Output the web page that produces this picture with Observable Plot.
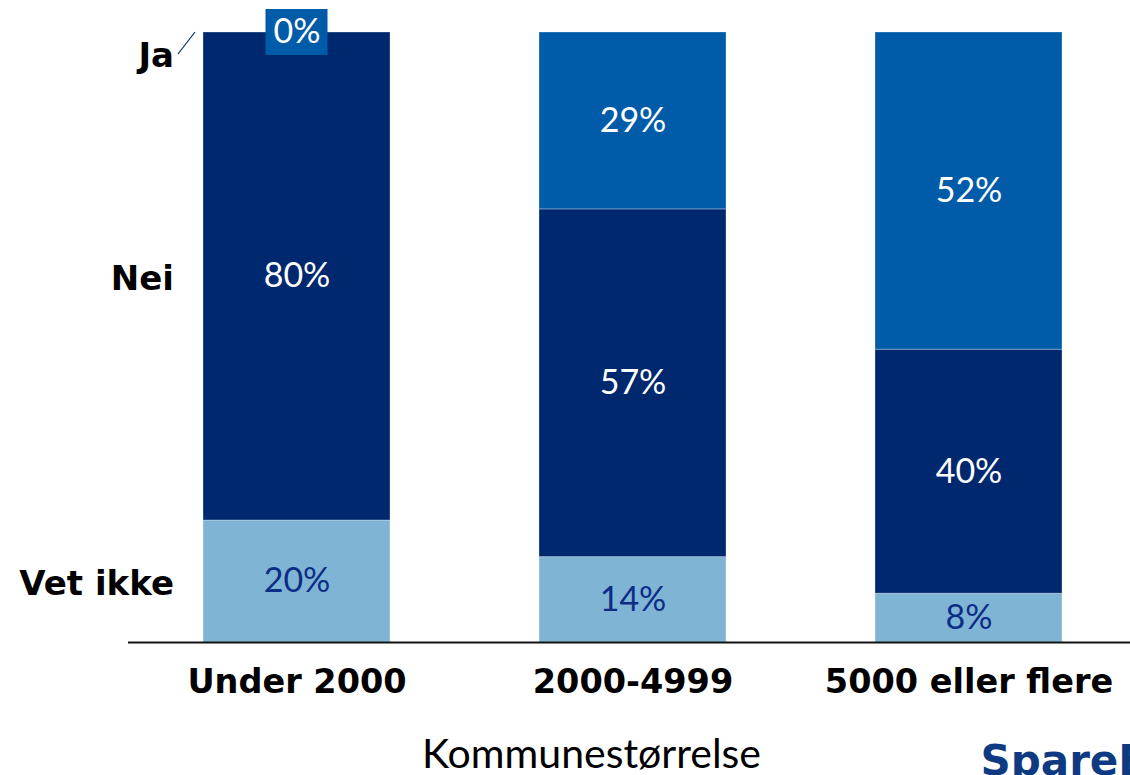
<!DOCTYPE html>
<html><head><meta charset="utf-8">
<script src="https://cdn.jsdelivr.net/npm/d3@7"></script>
<script src="https://cdn.jsdelivr.net/npm/@observablehq/plot@0.6"></script>
<style>body{margin:0;background:#fff;overflow:hidden}</style>
</head><body><div id="chart"></div>
<script>
const categories = ["Under 2000", "2000-4999", "5000 eller flere"];
const series = ["Vet ikke", "Nei", "Ja"];
const vetIkke = [20, 14, 8];
const nei = [80, 57, 40];
const ja = [0, 29, 52];
const axisTitle = "Kommunestørrelse";
const logoText = "SpareBank 1";
const colors = ["#7fb4d5", "#00286e", "#005ca8"];

const valuesBySeries = [vetIkke, nei, ja];
const rows = [];
categories.forEach((c, i) => {
  let base = 0;
  series.forEach((s, j) => {
    const v = valuesBySeries[j][i];
    rows.push({category: c, series: s, value: v, y1: base, y2: base + v, mid: base + v / 2});
    base += v;
  });
});
const first = rows.filter(d => d.category === categories[0]);

const boldFont = "DejaVu Sans";
const lightFont = "Lato";

const plot = Plot.plot({
  width: 1130,
  height: 775,
  marginLeft: 128,
  marginRight: 0,
  marginTop: 32,
  marginBottom: 133,
  x: {domain: categories, range: [128, 1136], paddingInner: 0.444, paddingOuter: 0.22, axis: null},
  y: {domain: [0, 100], axis: null},
  color: {domain: series, range: colors},
  marks: [
    Plot.barY(rows, {x: "category", y1: "y1", y2: "y2", fill: "series", stroke: "#ffffff", strokeOpacity: 0.3, strokeWidth: 1}),
    Plot.ruleY([0], {stroke: "#111111", strokeWidth: 2}),
    Plot.barY(rows.filter(d => d.value === 0), {x: "category", y1: "y2", y2: "y2", fill: colors[2], insetLeft: 62.5, insetRight: 62.5, insetTop: -23, insetBottom: -23}),
    Plot.text(rows.filter(d => d.series !== "Vet ikke"), {x: "category", y: "mid", text: d => d.value + "%", fill: "#ffffff", fontSize: 34, fontFamily: lightFont}),
    Plot.text(rows.filter(d => d.series === "Vet ikke"), {x: "category", y: "mid", text: d => d.value + "%", fill: "#0b2d86", fontSize: 34, fontFamily: lightFont}),
    Plot.text(first.filter(d => d.series !== "Ja"), {x: "category", y: "mid", text: "series", textAnchor: "end", dx: -123, dy: 3, fill: "#000000", fontSize: 34, fontWeight: "bold", fontFamily: boldFont}),
    Plot.text(first.filter(d => d.series === "Ja"), {x: "category", y: "y2", text: "series", textAnchor: "end", dx: -123, dy: 24, fill: "#000000", fontSize: 34, fontWeight: "bold", fontFamily: boldFont}),
    Plot.text(categories, {x: d => d, frameAnchor: "bottom", dy: 50, text: d => d, fill: "#000000", fontSize: 33.5, fontWeight: "bold", fontFamily: boldFont}),
    Plot.text([axisTitle], {frameAnchor: "bottom", dx: -38, dy: 125, text: d => d, fill: "#000000", fontSize: 41, fontFamily: lightFont}),
    Plot.text([logoText], {frameAnchor: "bottom-left", dx: 852, dy: 132, text: d => d, textAnchor: "start", fill: "#0d3a80", fontSize: 42, fontWeight: "bold", fontFamily: boldFont})
  ]
});

// leader line from "Ja" label to the top of the first bar
const sx = plot.scale("x");
const sy = plot.scale("y");
const x0 = sx.apply(categories[0]);
const yTop = sy.apply(first[2].y2);
d3.select(plot).append("line")
  .attr("x1", x0 - 8).attr("y1", yTop)
  .attr("x2", x0 - 25).attr("y2", yTop + 22)
  .attr("stroke", "#00286e").attr("stroke-width", 1.2);

document.getElementById("chart").appendChild(plot);
</script>
</body></html>
